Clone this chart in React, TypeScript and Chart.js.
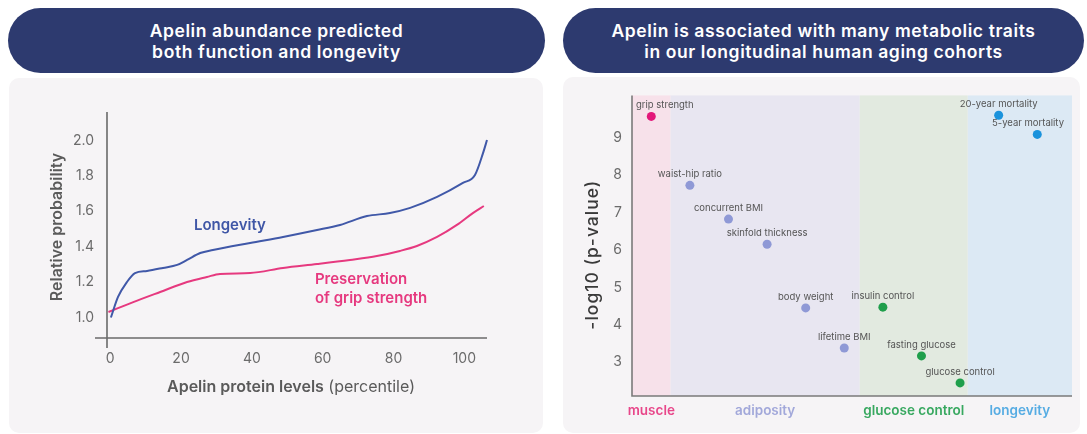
import React, { useEffect, useRef } from 'react';
import { Chart, registerables } from 'chart.js';

Chart.register(...registerables);

const FONT = 'Inter, "Noto Sans", sans-serif';

// ---------- Left panel data ----------
const leftTitle = ['Apelin abundance predicted', 'both function and longevity'];
const percentileTicks = [0, 20, 40, 60, 80, 100];
const probabilityTicks = [1.0, 1.2, 1.4, 1.6, 1.8, 2.0];
const longevityPct = [0.2, 2.2, 4.7, 7.0, 10.4, 14.9, 18.9, 21.7, 25.4, 29.0, 39.5, 48.8, 58.4, 64.9, 72.5, 79.0, 84.7, 92.3, 99.6, 103.0, 105.3, 106.4];
const longevityProb = [1.0, 1.116, 1.2, 1.251, 1.263, 1.28, 1.297, 1.325, 1.364, 1.381, 1.421, 1.455, 1.494, 1.523, 1.573, 1.59, 1.619, 1.681, 1.76, 1.805, 1.93, 2.003];
const gripPct = [-0.5, 6.5, 14.1, 21.7, 27.3, 31.0, 39.5, 48.8, 58.4, 67.7, 75.3, 81.8, 86.6, 92.3, 97.9, 102.4, 105.5];
const gripProb = [1.031, 1.087, 1.144, 1.2, 1.229, 1.246, 1.251, 1.28, 1.302, 1.325, 1.347, 1.376, 1.404, 1.455, 1.523, 1.59, 1.63];
const longevityLabel = 'Longevity';
const gripLabel = ['Preservation', 'of grip strength'];
const xTitleBold = 'Apelin protein levels';
const xTitleLight = ' (percentile)';
const yTitleLeft = 'Relative probability';

// ---------- Right panel data ----------
const rightTitle = ['Apelin is associated with many metabolic traits', 'in our longitudinal human aging cohorts'];
const traits = ['grip strength', 'waist-hip ratio', 'concurrent BMI', 'skinfold thickness', 'body weight', 'lifetime BMI', 'insulin control', 'fasting glucose', 'glucose control', '20-year mortality', '5-year mortality'];
const traitPos = [0, 1, 2, 3, 4, 5, 6, 7, 8, 9, 10];
const traitLogP = [9.56, 7.72, 6.82, 6.15, 4.45, 3.38, 4.47, 3.17, 2.45, 9.59, 9.08];
const traitGroup = [0, 1, 1, 1, 1, 1, 2, 2, 2, 3, 3];
const groups = ['muscle', 'adiposity', 'glucose control', 'longevity'];
const groupBounds = [-0.5, 0.5, 5.4, 8.2, 10.9];
const groupDot = ['#e3177a', '#8f99d6', '#1f9f4b', '#1b93dc'];
const groupBand = ['#f7e1ea', '#e8e6f1', '#e2eae0', '#dce9f4'];
const groupText = ['#e8478a', '#a2a8da', '#38a860', '#56ace3'];
const logPTicks = [3, 4, 5, 6, 7, 8, 9];
const yTitleRight = '-log10 (p-value)';

const leftDecor = {
  id: 'leftDecor',
  beforeDatasetsDraw(chart: any) {
    const { ctx, chartArea: a } = chart;
    ctx.save();
    ctx.strokeStyle = '#6a6a6a';
    ctx.lineWidth = 1.6;
    ctx.beginPath();
    ctx.moveTo(a.left, a.bottom);
    ctx.lineTo(a.right, a.bottom);
    ctx.stroke();
    const yx = a.left + 12;
    ctx.beginPath();
    ctx.moveTo(yx, a.top);
    ctx.lineTo(yx, a.bottom + 10);
    ctx.stroke();
    ctx.restore();
  },
  afterDraw(chart: any) {
    const { ctx, chartArea: a, scales } = chart;
    const x = scales.x, y = scales.y;
    ctx.save();
    ctx.font = `600 15px ${FONT}`;
    ctx.fillStyle = '#3f56a6';
    ctx.textAlign = 'center';
    ctx.textBaseline = 'middle';
    ctx.fillText(longevityLabel, x.getPixelForValue(33.8), y.getPixelForValue(1.517));
    ctx.fillStyle = '#e6397f';
    ctx.textAlign = 'left';
    ctx.fillText(gripLabel[0], x.getPixelForValue(57.8), y.getPixelForValue(1.212));
    ctx.fillText(gripLabel[1], x.getPixelForValue(57.8), y.getPixelForValue(1.11));
    ctx.fillStyle = '#5a5a5a';
    ctx.font = `600 16px ${FONT}`;
    const w1 = ctx.measureText(xTitleBold).width;
    ctx.font = `400 16px ${FONT}`;
    const w2 = ctx.measureText(xTitleLight).width;
    const cx = (a.left + a.right) / 2;
    const ty = a.bottom + 49;
    const sx = cx - (w1 + w2) / 2;
    ctx.textAlign = 'left';
    ctx.font = `600 16px ${FONT}`;
    ctx.fillText(xTitleBold, sx, ty);
    ctx.font = `400 16px ${FONT}`;
    ctx.fillText(xTitleLight, sx + w1, ty);
    ctx.translate(a.left - 38, (a.top + a.bottom) / 2 + 2);
    ctx.rotate(-Math.PI / 2);
    ctx.textAlign = 'center';
    ctx.font = `600 16px ${FONT}`;
    ctx.fillText(yTitleLeft, 0, 0);
    ctx.restore();
  },
};

const rightDecor = {
  id: 'rightDecor',
  beforeDatasetsDraw(chart: any) {
    const { ctx, chartArea: a, scales } = chart;
    const x = scales.x;
    ctx.save();
    for (let g = 0; g < groups.length; g++) {
      const x0 = x.getPixelForValue(groupBounds[g]);
      const x1 = x.getPixelForValue(groupBounds[g + 1]);
      ctx.fillStyle = groupBand[g];
      ctx.fillRect(x0, a.top, x1 - x0, a.bottom - a.top);
    }
    ctx.strokeStyle = '#7a7a7a';
    ctx.lineWidth = 1.6;
    ctx.beginPath();
    ctx.moveTo(a.left, a.top);
    ctx.lineTo(a.left, a.bottom);
    ctx.lineTo(a.right, a.bottom);
    ctx.stroke();
    ctx.restore();
  },
  afterDatasetsDraw(chart: any) {
    const { ctx, chartArea: a, scales } = chart;
    const x = scales.x, y = scales.y;
    ctx.save();
    ctx.font = `400 9.5px ${FONT}`;
    ctx.fillStyle = '#555555';
    ctx.textAlign = 'left';
    ctx.textBaseline = 'middle';
    for (let i = 0; i < traits.length; i++) {
      const px = x.getPixelForValue(traitPos[i]);
      const py = y.getPixelForValue(traitLogP[i]);
      const w = ctx.measureText(traits[i]).width;
      let lx = px - w / 2;
      if (lx < a.left + 4) lx = a.left + 4;
      if (lx + w > a.right - 8) lx = a.right - 8 - w;
      ctx.fillText(traits[i], lx, py - 11);
    }
    ctx.font = `600 13.5px ${FONT}`;
    ctx.textAlign = 'center';
    for (let g = 0; g < groups.length; g++) {
      const x0 = x.getPixelForValue(groupBounds[g]);
      const x1 = x.getPixelForValue(groupBounds[g + 1]);
      ctx.fillStyle = groupText[g];
      ctx.fillText(groups[g], (x0 + x1) / 2, a.bottom + 15);
    }
    ctx.fillStyle = '#3a3a3a';
    ctx.font = `500 17.5px ${FONT}`;
    try { (ctx as any).letterSpacing = '1px'; } catch (e) { /* ignore */ }
    ctx.translate(a.left - 39, (a.top + a.bottom) / 2 + 9);
    ctx.rotate(-Math.PI / 2);
    ctx.fillText(yTitleRight, 0, 0);
    ctx.restore();
  },
};

function LeftChart() {
  const ref = useRef<HTMLCanvasElement>(null);
  useEffect(() => {
    const chart = new Chart(ref.current as HTMLCanvasElement, {
      type: 'line',
      data: {
        datasets: [
          {
            label: 'Longevity',
            data: longevityPct.map((p, i) => ({ x: p, y: longevityProb[i] })),
            borderColor: '#4058a8',
            borderWidth: 2,
            pointRadius: 0,
            cubicInterpolationMode: 'monotone',
            clip: false,
          },
          {
            label: 'Grip',
            data: gripPct.map((p, i) => ({ x: p, y: gripProb[i] })),
            borderColor: '#e6397f',
            borderWidth: 2,
            pointRadius: 0,
            cubicInterpolationMode: 'monotone',
            clip: false,
          },
        ],
      },
      options: {
        animation: false,
        responsive: false,
        layout: { padding: { left: 0, right: 56, top: 34, bottom: 55 } },
        plugins: { legend: { display: false }, tooltip: { enabled: false } },
        scales: {
          x: {
            type: 'linear',
            min: -4.3,
            max: 106.4,
            grid: { display: false, drawTicks: false },
            border: { display: false },
            afterBuildTicks: (s: any) => { s.ticks = percentileTicks.map((v) => ({ value: v })); },
            afterFit: (s: any) => { s.height = 40; },
            ticks: { color: '#6b6b6b', font: { family: FONT, size: 14 }, padding: 12, maxRotation: 0, autoSkip: false },
          },
          y: {
            type: 'linear',
            min: 0.884,
            max: 2.161,
            grid: { display: false, drawTicks: false },
            border: { display: false },
            afterBuildTicks: (s: any) => { s.ticks = probabilityTicks.map((v) => ({ value: v })); },
            afterFit: (s: any) => { s.width = 86; },
            ticks: { color: '#6b6b6b', font: { family: FONT, size: 14 }, padding: 1, callback: (v: any) => Number(v).toFixed(1) },
          },
        },
      },
      plugins: [leftDecor],
    } as any);
    return () => chart.destroy();
  }, []);
  return <canvas ref={ref} width={534} height={355} style={{ display: 'block', width: 534, height: 355 }} />;
}

function RightChart() {
  const ref = useRef<HTMLCanvasElement>(null);
  useEffect(() => {
    const chart = new Chart(ref.current as HTMLCanvasElement, {
      type: 'scatter',
      data: {
        datasets: [
          {
            label: 'traits',
            data: traitPos.map((p, i) => ({ x: p, y: traitLogP[i] })),
            backgroundColor: traitGroup.map((g) => groupDot[g]),
            borderWidth: 0,
            pointRadius: 4.5,
            clip: false,
          },
        ],
      },
      options: {
        animation: false,
        responsive: false,
        layout: { padding: { left: 0, right: 8, top: 18, bottom: 37 } },
        plugins: { legend: { display: false }, tooltip: { enabled: false } },
        scales: {
          x: {
            type: 'linear',
            min: groupBounds[0],
            max: groupBounds[groupBounds.length - 1],
            display: false,
          },
          y: {
            type: 'linear',
            min: 2.1,
            max: 10.12,
            grid: { display: false, drawTicks: false },
            border: { display: false },
            afterBuildTicks: (s: any) => { s.ticks = logPTicks.map((v) => ({ value: v })); },
            afterFit: (s: any) => { s.width = 69; },
            ticks: { color: '#6b6b6b', font: { family: FONT, size: 14 }, padding: 10 },
          },
        },
      },
      plugins: [rightDecor],
    } as any);
    return () => chart.destroy();
  }, []);
  return <canvas ref={ref} width={517} height={356} style={{ display: 'block', width: 517, height: 356 }} />;
}

const pillStyle: React.CSSProperties = {
  position: 'absolute',
  top: 8,
  height: 65,
  borderRadius: 33,
  background: '#2d3a6f',
  color: '#ffffff',
  display: 'flex',
  flexDirection: 'column',
  alignItems: 'center',
  justifyContent: 'center',
  fontFamily: FONT,
  fontWeight: 600,
  fontSize: 17.5,
  letterSpacing: '0.6px',
  lineHeight: '21px',
  textAlign: 'center',
  whiteSpace: 'nowrap',
};

const panelStyle: React.CSSProperties = {
  position: 'absolute',
  background: '#f6f4f6',
  borderRadius: 10,
  overflow: 'hidden',
};

export default function App() {
  return (
    <div style={{ position: 'absolute', left: 0, top: 0, width: 1087, height: 434, background: '#ffffff', overflow: 'hidden' }}>
      <div style={{ ...pillStyle, left: 8, width: 537 }}>
        {leftTitle.map((t) => <div key={t}>{t}</div>)}
      </div>
      <div style={{ ...pillStyle, left: 563, width: 521 }}>
        {rightTitle.map((t) => <div key={t}>{t}</div>)}
      </div>
      <div style={{ ...panelStyle, left: 9, top: 78, width: 534, height: 355 }}>
        <LeftChart />
      </div>
      <div style={{ ...panelStyle, left: 563, top: 77, width: 517, height: 356 }}>
        <RightChart />
      </div>
    </div>
  );
}
